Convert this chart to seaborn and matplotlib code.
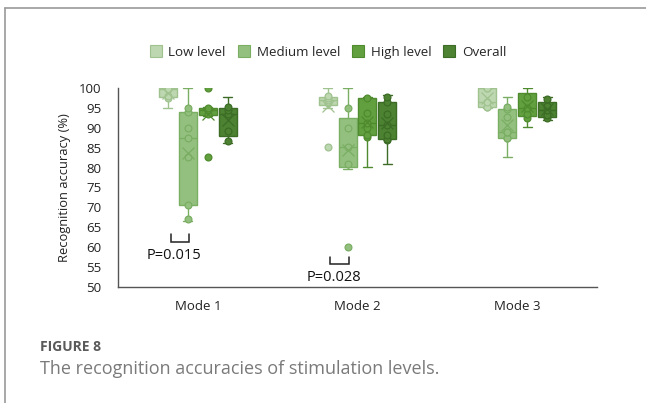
import numpy as np
import pandas as pd
import seaborn as sns
import matplotlib
matplotlib.use("Agg")
import matplotlib.pyplot as plt
from matplotlib.lines import Line2D
from matplotlib.patches import Patch

# ---- data: recognition accuracy (%) per subject, for Mode 1 / Mode 2 / Mode 3 ----
modes = ["Mode 1", "Mode 2", "Mode 3"]
levels = ["Low level", "Medium level", "High level", "Overall"]

low_level = [
    [95.0, 97.6, 98.1, 99.8, 100.0, 100.0, 100.0],
    [85.3, 95.1, 96.3, 97.0, 97.5, 97.9, 100.0],
    [95.1, 95.2, 95.2, 96.6, 99.9, 99.9, 100.0],
]
medium_level = [
    [66.5, 67.0, 70.6, 82.7, 87.5, 90.0, 93.9, 95.0, 100.0],
    [60.0, 79.6, 80.8, 85.3, 90.0, 95.0, 100.0],
    [82.7, 87.4, 87.5, 89.0, 89.0, 92.6, 94.6, 95.3, 97.7],
]
high_level = [
    [82.7, 93.0, 93.4, 94.5, 95.0, 95.2, 100.0],
    [80.2, 87.6, 88.2, 90.0, 91.3, 93.8, 97.6, 97.7, 97.7],
    [90.3, 92.5, 93.5, 95.1, 97.7, 100.0, 100.0],
]
overall = [
    [86.3, 86.6, 89.2, 93.5, 94.5, 95.3, 97.7],
    [80.9, 87.0, 87.1, 88.2, 90.7, 93.4, 96.6, 97.7, 98.2],
    [92.0, 92.5, 93.1, 94.5, 95.6, 97.2, 97.7],
]

p_labels = ["P=0.015", "P=0.028"]
p_bracket_y = [63.2, 57.6]
p_text_y = [58.0, 52.3]

fill_colors = ["#bdd7b0", "#94c07f", "#62a03f", "#4c8231"]
edge_colors = ["#9fc28f", "#7aae63", "#4f8b2e", "#3c6c25"]

# ---- long-form table ----
rows = []
for level, series in zip(levels, [low_level, medium_level, high_level, overall]):
    for mode, vals in zip(modes, series):
        for v in vals:
            rows.append({"mode": mode, "level": level, "acc": v})
df = pd.DataFrame(rows)


def shown_points(vals):
    """Inner points (strictly between the whisker ends) plus outliers."""
    v = np.asarray(vals, float)
    q1, q3 = np.percentile(v, [25, 75])
    iqr = q3 - q1
    inside = v[(v >= q1 - 1.5 * iqr) & (v <= q3 + 1.5 * iqr)]
    lo, hi = inside.min(), inside.max()
    outl = (v < q1 - 1.5 * iqr) | (v > q3 + 1.5 * iqr)
    return v[((v > lo) & (v < hi)) | outl]


sns.set_theme(style="white")
plt.rcParams["font.family"] = ["Open Sans", "DejaVu Sans"]

W, H = 646, 403
fig = plt.figure(figsize=(W / 100, H / 100), dpi=100)
ax = fig.add_axes([118 / W, 1 - 287 / H, (597 - 118) / W, (287 - 88) / H])

box_width = 0.5
n_lev = len(levels)

for k, level in enumerate(levels):
    sub = df[df["level"] == level]
    sns.boxplot(
        data=sub, x="mode", y="acc", hue="level",
        order=modes, hue_order=levels,
        palette={l: fill_colors[i] for i, l in enumerate(levels)},
        saturation=1, width=box_width, gap=0.1, dodge=True,
        linecolor=edge_colors[k], linewidth=1.0,
        showfliers=False, showmeans=True,
        meanprops=dict(marker="x", markeredgecolor=edge_colors[k],
                       markersize=9, markeredgewidth=0.9, zorder=5),
        legend=False, ax=ax,
    )
    # subject points at the dodged box position
    offset = box_width / n_lev * (k + 0.5) - box_width / 2
    for i, mode in enumerate(modes):
        pts = shown_points(sub.loc[sub["mode"] == mode, "acc"])
        ax.scatter(np.full(len(pts), i + offset), pts, s=24, facecolor=fill_colors[k],
                   edgecolor=edge_colors[k], linewidth=0.9, zorder=4)

# significance brackets between low and medium level
for i, (lab, by, ty) in enumerate(zip(p_labels, p_bracket_y, p_text_y)):
    x0, x1 = i - 0.17, i - 0.055
    dy = 1.9
    ax.plot([x0, x0, x1, x1], [by, by - dy, by - dy, by], color="#222222", lw=1.1,
            solid_joinstyle="miter")
    ax.text((x0 + x1) / 2 - 0.035, ty, lab, ha="center", va="center",
            fontsize=10.5, color="#111111")

ax.set_xlim(-0.5, 2.5)
ax.set_ylim(50, 100)
ax.set_yticks(np.arange(50, 101, 5))
ax.set_xticks([0, 1, 2])
ax.set_xticklabels(modes)
ax.set_xticks([0.5, 1.5, 2.5], minor=True)
ax.tick_params(axis="x", which="major", length=0, pad=9, labelsize=9.5, colors="#222222")
ax.tick_params(axis="x", which="minor", direction="in", length=3, width=1, color="#555555")
ax.tick_params(axis="y", which="major", direction="out", length=4, width=1, pad=8,
               labelsize=9.5, color="#555555", labelcolor="#222222")
ax.set_xlabel("")
ax.set_ylabel("Recognition accuracy (%)", fontsize=9.3, color="#222222", labelpad=6)
for s in ["top", "right"]:
    ax.spines[s].set_visible(False)
for s in ["left", "bottom"]:
    ax.spines[s].set_color("#555555")
    ax.spines[s].set_linewidth(1)

# legend above the plot
handles = [Patch(facecolor=f, edgecolor=e, linewidth=0.8) for f, e in zip(fill_colors, edge_colors)]
fig.legend(handles, levels, loc="center", bbox_to_anchor=(328 / W, 1 - 52 / H),
           ncol=4, frameon=False, fontsize=9.6, handlelength=0.9, handleheight=0.9,
           handletextpad=0.5, columnspacing=0.9)

# caption
fig.text(40 / W, 1 - 347 / H, "FIGURE 8", fontsize=10, fontweight="bold",
         color="#5a5a5a", va="center", ha="left")
fig.text(40 / W, 1 - 369 / H, "The recognition accuracies of stimulation levels.",
         fontsize=13, color="#7a7a7a", va="center", ha="left")

# panel frame
fig.add_artist(Line2D([5 / W, 1], [1 - 8 / H, 1 - 8 / H], transform=fig.transFigure,
                      color="#9a9a9a", lw=1.2))
fig.add_artist(Line2D([5 / W, 5 / W], [0, 1 - 8 / H], transform=fig.transFigure,
                      color="#9a9a9a", lw=1.2))

fig.savefig("out.png", dpi=100)
